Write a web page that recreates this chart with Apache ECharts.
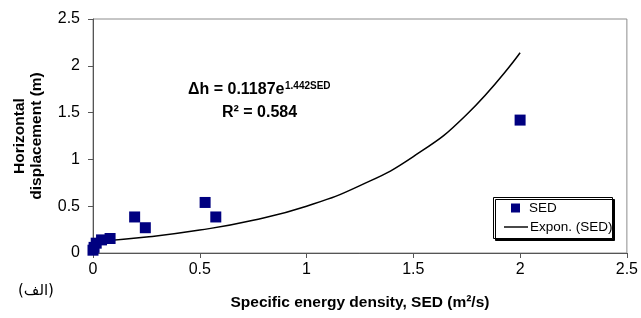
<!DOCTYPE html>
<html>
<head>
<meta charset="utf-8">
<script src="https://cdn.jsdelivr.net/npm/echarts@6/dist/echarts.min.js"></script>
<style>
  html, body { margin: 0; padding: 0; background: #fff; }
  #chart { width: 641px; height: 318px; }
</style>
</head>
<body>
<div id="chart"></div>
<script>
  // measured SED points (x: m2/s, y: m)
  const sedX = [0.0, 0.005, 0.015, 0.04, 0.08, 0.195, 0.245, 0.525, 0.575, 2.0];
  const sedY = [0.03, 0.06, 0.105, 0.14, 0.155, 0.385, 0.27, 0.54, 0.385, 1.42];
  // trend curve
  const trendX = [0, 0.25, 0.5, 0.75, 1, 1.25, 1.5, 1.75, 2];
  const trendY = [0.12, 0.17, 0.245, 0.35, 0.50, 0.72, 1.03, 1.48, 2.14];
  const xTicks = [0, 0.5, 1, 1.5, 2, 2.5];
  const yTicks = [0, 0.5, 1, 1.5, 2, 2.5];

  const font = '"Liberation Sans", Arial, sans-serif';
  const chart = echarts.init(document.getElementById('chart'), null, { renderer: 'canvas' });

  chart.setOption({
    animation: false,
    textStyle: { fontFamily: font },
    grid: { left: 93, right: 11, top: 19, bottom: 65, show: true, borderColor: '#8c8c8c', borderWidth: 1 },
    xAxis: {
      type: 'value', min: xTicks[0], max: xTicks[xTicks.length - 1], interval: 0.5,
      name: 'Specific energy density, SED (m\u00B2/s)', nameLocation: 'middle', nameGap: 42,
      nameTextStyle: { fontWeight: 'bold', fontSize: 15.5, color: '#000', fontFamily: font },
      axisLine: { lineStyle: { color: '#555', width: 1 } },
      axisTick: { length: 5, lineStyle: { color: '#555' } },
      axisLabel: { fontSize: 16, color: '#000', margin: 9, formatter: (v) => String(v) },
      splitLine: { show: false }
    },
    yAxis: {
      type: 'value', min: yTicks[0], max: yTicks[yTicks.length - 1], interval: 0.5,
      name: 'Horizontal\ndisplacement (m)', nameLocation: 'middle', nameRotate: 90, nameGap: 48,
      nameTextStyle: { fontWeight: 'bold', fontSize: 15.5, color: '#000', lineHeight: 17, fontFamily: font },
      axisLine: { show: true, lineStyle: { color: '#555', width: 1 } },
      axisTick: { show: true, length: 5, lineStyle: { color: '#555' } },
      axisLabel: { fontSize: 16, color: '#000', margin: 13, formatter: (v) => String(v) },
      splitLine: { show: false }
    },
    legend: [
      {
        data: [{ name: 'SED', icon: 'rect' }], left: 506, top: 196, z: 10, itemWidth: 9, itemHeight: 9,
        textStyle: { fontSize: 13.5, color: '#000', padding: [0, 0, 0, 4], fontFamily: font },
        selectedMode: false
      },
      {
        data: [{ name: 'Expon. (SED)', icon: 'path://M0,0h25v1.5h-25z' }], left: 499, top: 215, z: 10,
        itemWidth: 24, itemHeight: 1.5,
        itemStyle: { color: '#000' },
        textStyle: { fontSize: 13.5, color: '#000', padding: [0, 0, 0, -3], fontFamily: font },
        selectedMode: false
      }
    ],
    graphic: [
      {
        type: 'rect', left: 493, top: 197, z: 3,
        shape: { width: 119, height: 41 },
        style: { fill: '#fff', stroke: '#000', lineWidth: 1, shadowColor: '#000', shadowOffsetX: 2, shadowOffsetY: 2, shadowBlur: 0 }
      },
      {
        type: 'text', left: 188, top: 82, z: 6,
        style: { text: '\u0394h = 0.1187e', font: 'bold 16px ' + font, fill: '#000' }
      },
      {
        type: 'text', left: 285, top: 81, z: 6,
        style: { text: '1.442SED', font: 'bold 10px ' + font, fill: '#000' }
      },
      {
        type: 'text', left: 222, top: 105, z: 6,
        style: { text: 'R\u00B2 = 0.584', font: 'bold 16px ' + font, fill: '#000' }
      },
      {
        type: 'text', left: 18, top: 284, z: 6,
        style: { text: '(\u0627\u0644\u0641)', font: '15px "DejaVu Sans", sans-serif', fill: '#000' }
      }
    ],
    series: [
      {
        name: 'SED', type: 'scatter', symbol: 'rect', symbolSize: 11, z: 3,
        itemStyle: { color: '#000080', opacity: 1 },
        data: sedX.map((x, i) => [x, sedY[i]])
      },
      {
        name: 'Expon. (SED)', type: 'line', smooth: true, symbol: 'none', showSymbol: false, z: 2,
        lineStyle: { color: '#000', width: 1.5 },
        itemStyle: { color: '#000' },
        data: trendX.map((x, i) => [x, trendY[i]])
      }
    ]
  });
</script>
</body>
</html>
